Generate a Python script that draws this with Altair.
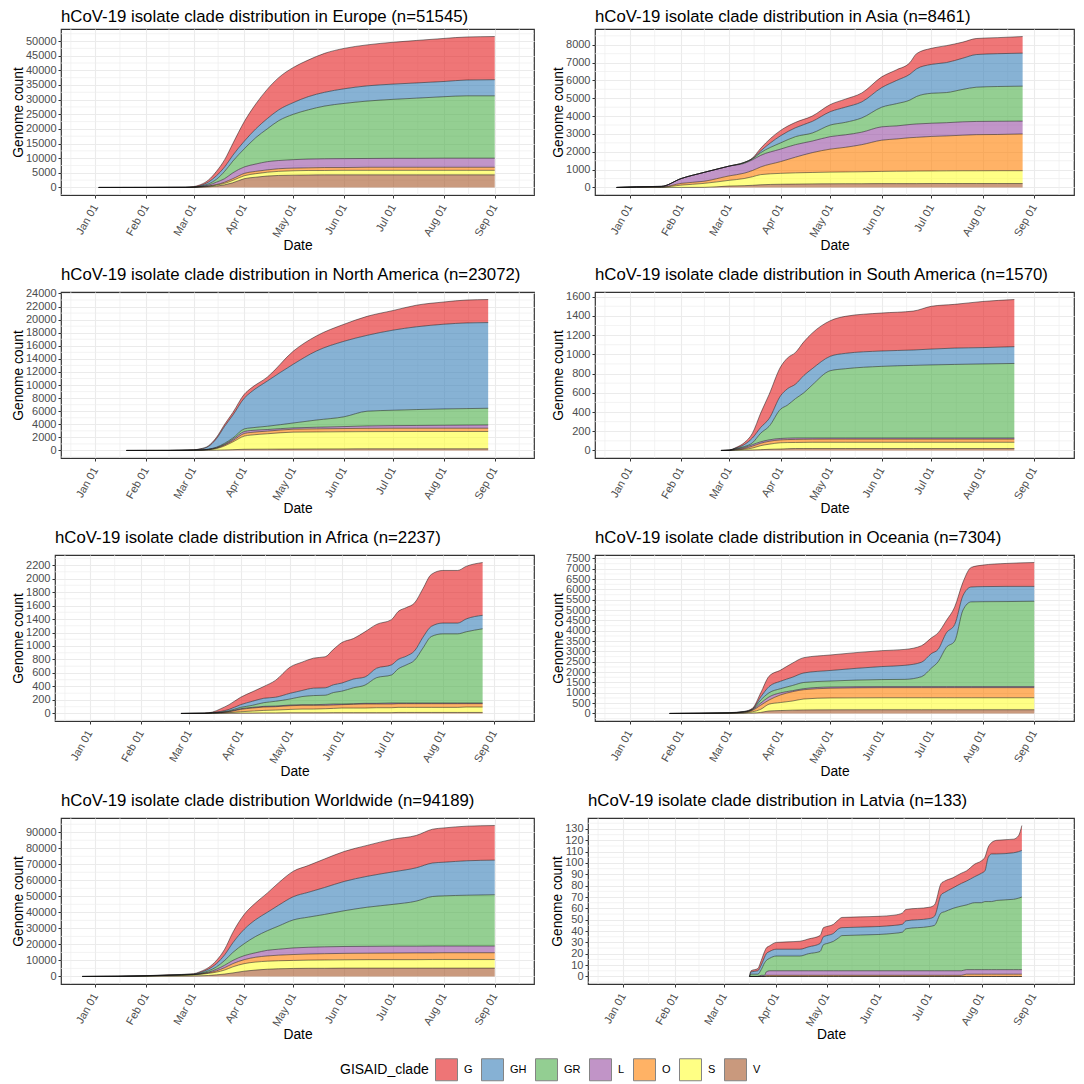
"""
Cumulative hCoV-19 clade counts per region, one stacked area panel per region.
"""

import altair as alt
import numpy as np
import pandas as pd

CLADES = ["G", "GH", "GR", "L", "O", "S", "V"]
CLADE_COLORS = ["#E41A1C", "#377EB8", "#4DAF4A", "#984EA3", "#FF7F00", "#FFFF33", "#A65628"]

MONTH_TICKS = ["01-01", "02-01", "03-01", "04-01", "05-01", "06-01", "07-01", "08-01", "09-01"]
MINOR_DAYS = ["2019-12-17", "2020-01-16", "2020-02-15", "2020-03-16", "2020-04-16",
              "2020-05-16", "2020-06-16", "2020-07-16", "2020-08-16", "2020-09-16"]

# Each list below is the upper edge of that clade's band.
EU_DATES = ["01-03", "02-01", "02-25", "03-01", "03-05", "03-10", "03-15", "03-20", "03-25", "04-01", "04-08", "04-15",
            "04-22", "05-01", "05-10", "05-20", "06-01", "06-15", "07-01", "07-15", "08-01", "08-15", "09-01"]
EU_G = [0, 20, 100, 300, 900, 2500, 5500, 9500, 15000, 22500, 28500, 33500, 37500, 41000, 43500, 45800, 47500, 48700, 49600, 50200, 50900, 51400, 51545]
EU_GH = [0, 15, 60, 180, 600, 1800, 4000, 7000, 11000, 15800, 20000, 23500, 26500, 29000, 31000, 32500, 33700, 34700, 35300, 35700, 36200, 36700, 36800]
EU_GR = [0, 10, 40, 120, 400, 1200, 2800, 5500, 9000, 13200, 17000, 20000, 22800, 25000, 26500, 27800, 28700, 29500, 30100, 30500, 31000, 31300, 31300]
EU_L = [0, 8, 30, 90, 300, 800, 1800, 3000, 5000, 7000, 8000, 8800, 9200, 9500, 9700, 9800, 9850, 9900, 9950, 9950, 10000, 10000, 10000]
EU_O = [0, 6, 20, 70, 200, 500, 1000, 1800, 3000, 4800, 5500, 6000, 6400, 6600, 6700, 6800, 6800, 6900, 6900, 6900, 6900, 6900, 6900]
EU_S = [0, 4, 15, 50, 150, 350, 800, 1400, 2400, 4000, 4700, 5200, 5500, 5700, 5800, 5800, 5850, 5850, 5850, 5850, 5850, 5850, 5850]
EU_V = [0, 2, 8, 25, 80, 200, 450, 900, 1600, 3000, 3500, 3900, 4100, 4200, 4250, 4300, 4300, 4300, 4300, 4300, 4300, 4300, 4300]

AS_DATES = ["2019-12-24", "01-05", "01-20", "02-01", "02-15", "03-01", "03-10", "03-15", "03-20", "04-01", "04-10", "04-20", "05-01",
            "05-10", "05-20", "06-01", "06-10", "06-18", "06-22", "07-01", "07-10", "07-20", "07-28", "08-10", "08-25"]
AS_G = [0, 40, 60, 500, 850, 1200, 1400, 1650, 2200, 3200, 3650, 4000, 4650, 4950, 5300, 6200, 6600, 7000, 7500, 7800, 7950, 8150, 8350, 8400, 8461]
AS_GH = [0, 40, 60, 500, 850, 1200, 1400, 1620, 2050, 2900, 3350, 3700, 4250, 4500, 4800, 5600, 6000, 6350, 6650, 6900, 7000, 7250, 7450, 7500, 7530]
AS_GR = [0, 40, 60, 500, 850, 1200, 1400, 1600, 1950, 2500, 2850, 3050, 3500, 3650, 3900, 4500, 4700, 4900, 5100, 5280, 5320, 5500, 5620, 5660, 5680]
AS_L = [0, 40, 60, 500, 850, 1200, 1350, 1550, 1800, 2150, 2400, 2600, 2850, 2950, 3100, 3400, 3450, 3530, 3560, 3600, 3630, 3680, 3700, 3710, 3720]
AS_O = [0, 10, 20, 230, 350, 650, 800, 950, 1150, 1450, 1700, 1950, 2150, 2250, 2400, 2650, 2720, 2790, 2810, 2860, 2890, 2930, 2960, 2970, 3000]
AS_S = [0, 5, 15, 130, 230, 400, 500, 600, 720, 790, 820, 840, 860, 870, 880, 900, 910, 915, 920, 925, 930, 935, 935, 940, 940]
AS_V = [0, 0, 0, 0, 5, 80, 100, 120, 150, 180, 190, 200, 205, 210, 210, 215, 215, 215, 215, 220, 220, 220, 220, 220, 220]

NA_DATES = ["01-20", "02-15", "03-01", "03-05", "03-10", "03-15", "03-20", "03-25", "04-01", "04-05",
            "04-15", "05-01", "05-15", "06-01", "06-15", "07-01", "07-15", "08-01", "08-15", "08-28"]
NA_G = [0, 10, 100, 250, 700, 2000, 4000, 5800, 8600, 9500, 11200, 15200, 17500, 19300, 20500, 21400, 22200, 22700, 23000, 23072]
NA_GH = [0, 8, 80, 200, 600, 1800, 3700, 5400, 8000, 8900, 10600, 13200, 15200, 16700, 17600, 18400, 18900, 19300, 19500, 19550]
NA_GR = [0, 6, 60, 80, 200, 500, 1100, 1900, 3300, 3450, 3700, 4200, 4650, 5150, 6000, 6150, 6250, 6350, 6400, 6450]
NA_L = [0, 5, 50, 70, 170, 420, 950, 1700, 2900, 3050, 3200, 3450, 3550, 3650, 3750, 3800, 3820, 3850, 3880, 3900]
NA_O = [0, 4, 40, 60, 140, 360, 850, 1500, 2600, 2750, 2950, 3250, 3300, 3350, 3380, 3400, 3400, 3400, 3400, 3400]
NA_S = [0, 3, 30, 45, 110, 280, 700, 1300, 2200, 2350, 2550, 2800, 2830, 2860, 2880, 2890, 2900, 2900, 2900, 2900]
NA_V = [0, 1, 5, 10, 20, 40, 80, 120, 180, 190, 200, 220, 230, 240, 250, 250, 250, 250, 250, 250]

SA_DATES = ["02-25", "03-01", "03-05", "03-10", "03-15", "03-20", "03-25", "04-01", "04-05", "04-10",
            "04-15", "04-20", "05-01", "05-10", "06-01", "06-20", "07-01", "07-15", "08-01", "08-20"]
SA_G = [0, 5, 30, 80, 180, 390, 580, 870, 960, 1020, 1130, 1220, 1350, 1395, 1430, 1450, 1500, 1520, 1550, 1570]
SA_GH = [0, 4, 25, 60, 130, 240, 330, 570, 640, 690, 780, 850, 980, 1010, 1035, 1045, 1055, 1065, 1070, 1080]
SA_GR = [0, 3, 20, 40, 80, 180, 250, 430, 470, 540, 600, 680, 830, 850, 875, 885, 890, 895, 900, 905]
SA_L = [0, 2, 15, 30, 60, 90, 110, 125, 128, 130, 130, 130, 130, 130, 130, 130, 130, 130, 130, 130]
SA_O = [0, 1, 10, 20, 45, 75, 95, 110, 113, 115, 116, 117, 118, 118, 118, 118, 118, 118, 118, 118]
SA_S = [0, 0, 5, 12, 25, 50, 65, 80, 82, 83, 84, 85, 85, 85, 85, 85, 85, 85, 85, 85]
SA_V = [0, 0, 0, 3, 5, 8, 12, 15, 18, 20, 20, 20, 20, 20, 20, 20, 20, 20, 20, 20]

AF_DATES = ["02-25", "03-10", "03-15", "03-20", "03-25", "04-01", "04-08", "04-15", "04-22", "05-01", "05-08", "05-15", "05-22", "05-27",
            "06-01", "06-08", "06-15", "06-22", "07-01", "07-05", "07-10", "07-15", "07-20", "07-25", "08-01", "08-10", "08-15", "08-25"]
AF_G = [0, 5, 20, 70, 130, 240, 320, 400, 490, 690, 760, 820, 840, 950, 1050, 1110, 1210, 1320, 1390, 1510, 1570, 1640, 1850, 2060, 2120, 2120, 2180, 2237]
AF_GH = [0, 4, 15, 30, 60, 130, 180, 225, 240, 300, 340, 375, 380, 425, 450, 510, 540, 670, 720, 800, 850, 930, 1130, 1290, 1340, 1340, 1400, 1455]
AF_GR = [0, 3, 10, 20, 40, 90, 120, 160, 180, 215, 250, 265, 270, 310, 330, 380, 420, 530, 570, 660, 720, 790, 970, 1140, 1180, 1180, 1210, 1255]
AF_L = [0, 3, 8, 15, 30, 70, 90, 105, 110, 125, 130, 130, 135, 140, 140, 145, 150, 150, 155, 155, 155, 155, 155, 155, 155, 155, 155, 155]
AF_O = [0, 2, 6, 12, 25, 60, 80, 95, 100, 115, 120, 120, 120, 125, 130, 135, 140, 140, 140, 145, 145, 145, 145, 145, 145, 145, 145, 145]
AF_S = [0, 1, 3, 6, 12, 25, 35, 45, 50, 60, 65, 65, 70, 75, 80, 80, 80, 85, 85, 90, 90, 90, 90, 90, 90, 90, 95, 95]
AF_V = [0, 0, 1, 2, 3, 5, 6, 8, 8, 10, 10, 10, 10, 12, 12, 12, 12, 12, 12, 15, 15, 15, 15, 15, 15, 15, 15, 15]

OC_DATES = ["01-25", "03-01", "03-10", "03-15", "03-20", "03-25", "04-01", "04-08", "04-15", "05-01", "06-01",
            "06-15", "06-25", "07-01", "07-05", "07-10", "07-15", "07-20", "07-25", "08-01", "08-15", "09-01"]
OC_G = [0, 40, 100, 250, 1000, 1800, 2100, 2430, 2700, 2830, 3040, 3100, 3280, 3660, 3900, 4500, 5150, 6350, 7070, 7180, 7260, 7304]
OC_GH = [0, 35, 90, 220, 800, 1300, 1560, 1750, 1960, 2080, 2270, 2330, 2480, 2900, 3100, 3900, 4300, 5700, 6120, 6140, 6150, 6150]
OC_GR = [0, 30, 80, 200, 650, 1000, 1200, 1350, 1500, 1570, 1640, 1650, 1780, 2200, 2500, 3200, 3500, 5000, 5400, 5410, 5415, 5430]
OC_L = [0, 25, 70, 180, 500, 800, 1000, 1100, 1200, 1280, 1300, 1300, 1300, 1300, 1300, 1300, 1300, 1300, 1300, 1300, 1300, 1300]
OC_O = [0, 20, 60, 150, 400, 650, 900, 1050, 1150, 1220, 1250, 1250, 1250, 1250, 1250, 1250, 1250, 1250, 1250, 1250, 1250, 1250]
OC_S = [0, 10, 30, 80, 200, 450, 530, 600, 700, 750, 760, 760, 760, 760, 760, 760, 760, 760, 760, 760, 760, 760]
OC_V = [0, 2, 8, 20, 50, 120, 140, 160, 170, 175, 180, 180, 180, 180, 180, 180, 180, 180, 180, 180, 180, 180]

WW_DATES = ["2019-12-24", "01-15", "02-01", "02-15", "03-01", "03-05", "03-10", "03-15", "03-20", "03-25", "04-01", "04-08", "04-15",
            "04-22", "05-01", "05-10", "05-20", "06-01", "06-15", "07-01", "07-15", "07-25", "08-01", "08-15", "09-01"]
WW_G = [0, 150, 500, 1000, 1700, 3000, 5500, 10000, 17000, 27500, 38800, 46000, 52000, 58500, 65700, 69200, 73300, 78000, 81800, 85700, 88000, 91900, 92700, 93800, 94189]
WW_GH = [0, 120, 450, 900, 1500, 2500, 4500, 8000, 13500, 21000, 29500, 35500, 40000, 44500, 49800, 52500, 55500, 59300, 62500, 65300, 67800, 70800, 71300, 72200, 72600]
WW_GR = [0, 100, 400, 800, 1300, 2000, 3500, 6000, 10000, 15000, 20500, 25000, 28500, 31500, 35300, 37000, 38700, 41000, 43200, 45000, 47000, 49900, 50300, 50700, 51000]
WW_L = [0, 90, 380, 750, 1200, 1700, 2700, 4500, 7000, 10000, 13000, 14800, 16300, 17000, 17800, 18200, 18500, 18700, 18800, 18900, 18900, 19000, 19000, 19000, 19000]
WW_O = [0, 70, 350, 700, 1100, 1500, 2300, 3500, 5500, 8000, 10500, 12000, 12800, 13300, 13700, 14000, 14200, 14400, 14500, 14600, 14700, 14700, 14800, 14800, 14800]
WW_S = [0, 60, 300, 650, 1000, 1300, 1900, 2700, 4000, 6000, 8000, 9000, 9500, 9800, 10000, 10200, 10300, 10400, 10500, 10500, 10500, 10600, 10600, 10600, 10600]
WW_V = [0, 10, 40, 100, 300, 400, 600, 1000, 1500, 2200, 3300, 4000, 4500, 4800, 5000, 5100, 5100, 5200, 5200, 5200, 5200, 5200, 5200, 5200, 5200]

LV_DATES = ["03-16", "03-17", "03-21", "03-23", "03-25", "03-26", "03-28", "04-01", "04-15", "04-20", "04-27", "04-29", "05-01", "05-05", "05-08", "05-10", "06-01", "06-10",
            "06-15", "06-17", "07-01", "07-04", "07-08", "07-10", "07-15", "07-20", "07-23", "07-28", "08-01", "08-03", "08-05", "08-07", "08-10", "08-20", "08-23", "08-25"]
LV_G = [0, 5, 7, 14, 22, 25, 27, 30, 31, 33, 36, 43, 44, 46, 50, 52, 53, 54, 56, 59, 61, 63, 82, 84, 87, 91, 93, 99, 102, 105, 114, 118, 120, 121, 124, 133]
LV_GH = [0, 4, 5, 10, 17, 20, 22, 24, 24, 26, 29, 35, 36, 38, 42, 43, 44, 45, 46, 49, 51, 53, 72, 74, 78, 82, 84, 88, 91, 93, 105, 108, 108, 109, 110, 111]
LV_GR = [0, 2, 2, 6, 12, 14, 16, 18, 18, 20, 22, 28, 29, 31, 34, 36, 37, 38, 39, 42, 44, 45, 56, 57, 60, 62, 63, 65, 65, 66, 66, 66, 67, 68, 69, 70]
LV_L = [0, 0, 0, 1, 1, 4, 5, 5, 5, 5, 5, 5, 5, 5, 5, 5, 5, 5, 5, 5, 5, 5, 5, 5, 5, 5, 6, 6, 6, 6, 6, 6, 6, 6, 6, 6]
LV_O = [0, 0, 0, 0, 0, 1, 1, 1, 1, 1, 1, 1, 1, 1, 1, 1, 1, 1, 1, 1, 1, 1, 1, 1, 1, 1, 2, 2, 2, 2, 2, 2, 2, 2, 2, 2]
LV_S = [0] * 36
LV_V = [0] * 36

X_DOMAIN = [alt.DateTime(year=2019, month=12, date=11), alt.DateTime(year=2020, month=9, date=25)]
X_SCALE = alt.Scale(domain=X_DOMAIN)
X_AXIS = alt.Axis(values=[alt.DateTime(year=2020, month=int(m[:2]), date=1) for m in MONTH_TICKS],
                  format="%b %d", labelAngle=-60, labelAlign="right", labelBaseline="middle",
                  labelPadding=7, titlePadding=0, labelOverlap=False)


def to_date(text: str) -> pd.Timestamp:
    """Dates without a year belong to 2020."""
    return pd.Timestamp(text if len(text) > 5 else "2020-" + text)


def build_long_frame(dates: list, tops: list) -> pd.DataFrame:
    """Turn the band edges of one region into one row per date and clade."""
    edges = np.array(tops + [[0] * len(dates)], dtype=float)
    counts = edges[:-1] - edges[1:]
    frames = []
    for clade, values, top in zip(CLADES, counts, edges):
        frames.append(pd.DataFrame({"date": [to_date(d) for d in dates], "clade": clade, "count": values, "top": top}))
    return pd.concat(frames, ignore_index=True)


def build_panel(title: str, dates: list, tops: list, n: int, step: int, y_last: int, width: int, title_dy: int) -> alt.LayerChart:
    """One region: minor grid lines under a stacked area with a ggplot-like frame."""
    df = build_long_frame(dates, tops)
    y_scale = alt.Scale(domain=[-0.05 * n, 1.05 * n], nice=False)
    y_axis = alt.Axis(values=list(range(0, y_last + 1, step)), format="d", titlePadding=0, labelPadding=2, labelOverlap=False)
    y_minor = [t + step / 2 for t in range(-step, y_last + 1, step)]
    x_enc = alt.X("date:T", title="Date", scale=X_SCALE, axis=X_AXIS)

    minor_x = (
        alt.Chart(pd.DataFrame({"date": [pd.Timestamp(d) for d in MINOR_DAYS]}))
        .mark_rule(color="#EEEEEE", strokeWidth=0.7, clip=True)
        .encode(x=x_enc)
    )
    minor_y = (
        alt.Chart(pd.DataFrame({"value": y_minor}))
        .mark_rule(color="#EEEEEE", strokeWidth=0.7, clip=True)
        .encode(y=alt.Y("value:Q", title="Genome count", scale=y_scale, axis=y_axis))
    )
    areas = (
        alt.Chart(df)
        .mark_area(interpolate="monotone", opacity=0.6)
        .encode(
            x=x_enc,
            y=alt.Y("count:Q", title="Genome count", stack="zero", scale=y_scale, axis=y_axis),
            color=alt.Color("clade:N", scale=alt.Scale(domain=CLADES, range=CLADE_COLORS),
                            legend=alt.Legend(title="GISAID_clade", orient="none", legendX=331, legendY=1029,
                                              direction="horizontal", columns=7, titleOrient="left")),
        )
    )
    outlines = (
        alt.Chart(df)
        .mark_line(interpolate="monotone", color="#111111", strokeWidth=0.7, opacity=0.7)
        .encode(
            x=x_enc,
            y=alt.Y("top:Q", title="Genome count", scale=y_scale, axis=y_axis),
            detail="clade:N",
        )
    )
    return (minor_x + minor_y + areas + outlines).properties(
        width=width,
        height=166,
        title=alt.TitleParams(title, anchor="start", frame="group", fontSize=16.8, fontWeight="normal",
                              color="#000000", offset=3, dy=title_dy),
    )


def build_spacer() -> alt.Chart:
    """Invisible sliver so the left panels line up on their axis titles, not on their plot edges."""
    return (
        alt.Chart(pd.DataFrame({"v": [0]}))
        .mark_point(opacity=0, size=1, strokeWidth=0)
        .encode(x=alt.value(0), y=alt.value(0))
        .properties(width=1, height=166, view=alt.ViewConfig(strokeOpacity=0))
    )


panels = [
    build_panel("hCoV-19 isolate clade distribution in Europe (n=51545)", EU_DATES,
                [EU_G, EU_GH, EU_GR, EU_L, EU_O, EU_S, EU_V], 51545, 5000, 50000, 473, 0),
    build_panel("hCoV-19 isolate clade distribution in Asia (n=8461)", AS_DATES,
                [AS_G, AS_GH, AS_GR, AS_L, AS_O, AS_S, AS_V], 8461, 1000, 8000, 479, 0),
    build_panel("hCoV-19 isolate clade distribution in North America (n=23072)", NA_DATES,
                [NA_G, NA_GH, NA_GR, NA_L, NA_O, NA_S, NA_V], 23072, 2000, 24000, 473, -1),
    build_panel("hCoV-19 isolate clade distribution in South America (n=1570)", SA_DATES,
                [SA_G, SA_GH, SA_GR, SA_L, SA_O, SA_S, SA_V], 1570, 200, 1600, 479, -4),
    build_panel("hCoV-19 isolate clade distribution in Africa (n=2237)", AF_DATES,
                [AF_G, AF_GH, AF_GR, AF_L, AF_O, AF_S, AF_V], 2237, 200, 2200, 479, -5),
    build_panel("hCoV-19 isolate clade distribution in Oceania (n=7304)", OC_DATES,
                [OC_G, OC_GH, OC_GR, OC_L, OC_O, OC_S, OC_V], 7304, 500, 7500, 479, -3),
    build_panel("hCoV-19 isolate clade distribution Worldwide (n=94189)", WW_DATES,
                [WW_G, WW_GH, WW_GR, WW_L, WW_O, WW_S, WW_V], 94189, 10000, 90000, 473, -5),
    build_panel("hCoV-19 isolate clade distribution in Latvia (n=133)", LV_DATES,
                [LV_G, LV_GH, LV_GR, LV_L, LV_O, LV_S, LV_V], 133, 10, 130, 486, -5),
]

rows = [
    alt.hconcat(alt.hconcat(build_spacer(), panels[i], spacing=0), panels[i + 1], spacing=15)
    for i in range(0, 8, 2)
]

chart = (
    alt.vconcat(*rows, spacing=263, bounds="flush", padding=0)
    .configure(font="Liberation Sans", background="white")
    .configure_view(stroke="#333333", strokeWidth=1.2)
    .configure_axis(
        grid=True, gridColor="#EBEBEB", gridWidth=1.1, domain=False,
        tickColor="#333333", tickSize=3, tickWidth=1,
        labelColor="#4D4D4D", labelFontSize=11,
        titleColor="#000000", titleFontSize=13.8, titleFontWeight="normal",
    )
    .configure_legend(
        symbolType="square", symbolSize=484, symbolOpacity=0.6,
        symbolStrokeColor="#333333", symbolStrokeWidth=1,
        labelFontSize=11, labelColor="#000000", labelOffset=6,
        titleFontSize=14, titleFontWeight="normal", titleColor="#000000", titlePadding=6,
        columnPadding=6,
    )
)

chart.save("out.html", embed_options={"renderer": "svg", "actions": False})
